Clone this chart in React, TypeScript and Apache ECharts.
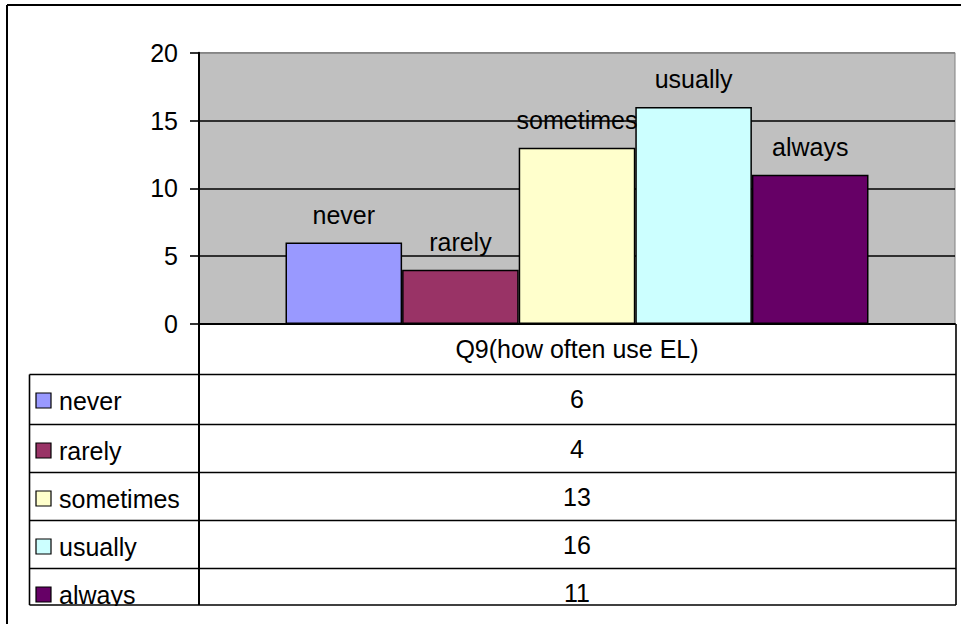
import React, { useEffect, useRef } from "react";
import * as echarts from "echarts";

// Survey question and answer counts
const categories = ["Q9(how often use EL)"];
const seriesNames = ["never", "rarely", "sometimes", "usually", "always"];
const seriesValues = [6, 4, 13, 16, 11];
const seriesColors = ["#9999FF", "#993366", "#FFFFCC", "#CCFFFF", "#660066"];
const yMin = 0;
const yMax = 20;
const yInterval = 5;

const W = 961;
const H = 624;
const FONT = "'Liberation Sans', Arial, Helvetica, sans-serif";
const FS = 25;

// plot / table layout
const PLOT_LEFT = 199;
const PLOT_RIGHT = 955;
const PLOT_TOP = 52.7;
const PLOT_BOTTOM = 324;
const TABLE_LEFT = 29.5;
const TABLE_RIGHT = 956;
const ROW_TOPS = [374.5, 424.5, 472.5, 520.5, 568.5];
const ROW_H = 48;
const TABLE_BOTTOM = 605;

export default function App() {
  const ref = useRef<HTMLDivElement>(null);

  useEffect(() => {
    if (!ref.current) return;
    const chart = echarts.init(ref.current, undefined, { renderer: "svg" });

    const midX = (PLOT_LEFT + PLOT_RIGHT) / 2;
    const lineStyle = { stroke: "#000", lineWidth: 1.6 };
    const graphics: any[] = [];

    // outer chart frame (left and top edges visible)
    graphics.push({ type: "line", z: 120, shape: { x1: 7, y1: 5, x2: 7, y2: H }, style: { stroke: "#000", lineWidth: 2 } });
    graphics.push({ type: "line", z: 120, shape: { x1: 7, y1: 5, x2: W, y2: 5 }, style: { stroke: "#000", lineWidth: 2 } });

    // data table grid
    ROW_TOPS.forEach((y) => {
      graphics.push({ type: "line", z: 50, shape: { x1: TABLE_LEFT, y1: y, x2: TABLE_RIGHT, y2: y }, style: lineStyle });
    });
    graphics.push({ type: "line", z: 50, shape: { x1: TABLE_LEFT, y1: TABLE_BOTTOM, x2: TABLE_RIGHT, y2: TABLE_BOTTOM }, style: lineStyle });
    graphics.push({ type: "line", z: 50, shape: { x1: TABLE_LEFT, y1: ROW_TOPS[0], x2: TABLE_LEFT, y2: TABLE_BOTTOM }, style: lineStyle });
    graphics.push({ type: "line", z: 50, shape: { x1: PLOT_LEFT, y1: PLOT_BOTTOM, x2: PLOT_LEFT, y2: TABLE_BOTTOM }, style: { stroke: "#000", lineWidth: 2 } });
    graphics.push({ type: "line", z: 50, shape: { x1: TABLE_RIGHT, y1: PLOT_BOTTOM, x2: TABLE_RIGHT, y2: TABLE_BOTTOM }, style: lineStyle });

    // legend keys and values per row
    seriesNames.forEach((name, i) => {
      const cy = ROW_TOPS[i] + ROW_H / 2 + 2;
      graphics.push({
        type: "rect",
        z: 40,
        shape: { x: 36, y: cy - 7.5, width: 15, height: 15 },
        style: { fill: seriesColors[i], stroke: "#000", lineWidth: 1.2 },
      });
      graphics.push({
        type: "text",
        z: 40,
        x: 59,
        y: cy,
        style: { text: name, fontSize: FS, fontFamily: FONT, fill: "#000", align: "left", verticalAlign: "middle" },
      });
      graphics.push({
        type: "text",
        z: 40,
        x: midX,
        y: ROW_TOPS[i] + ROW_H / 2,
        style: { text: String(seriesValues[i]), fontSize: FS, fontFamily: FONT, fill: "#000", align: "center", verticalAlign: "middle" },
      });
    });

    // trims whatever spills below the table's bottom edge
    graphics.push({
      type: "rect",
      z: 100,
      shape: { x: 8.5, y: TABLE_BOTTOM + 1, width: W, height: H - TABLE_BOTTOM },
      style: { fill: "#fff" },
    });

    chart.setOption({
      animation: false,
      backgroundColor: "#fff",
      textStyle: { fontFamily: FONT },
      grid: {
        left: PLOT_LEFT,
        right: W - PLOT_RIGHT,
        top: PLOT_TOP,
        bottom: H - PLOT_BOTTOM,
        show: true,
        backgroundColor: "#C0C0C0",
        borderColor: "#808080",
        borderWidth: 1,
      },
      xAxis: {
        type: "category",
        data: categories,
        axisLine: { show: true, lineStyle: { color: "#000", width: 2 } },
        axisTick: { show: false },
        axisLabel: { show: true, fontSize: FS, color: "#000", fontFamily: FONT, margin: 12 },
        splitLine: { show: false },
      },
      yAxis: {
        type: "value",
        min: yMin,
        max: yMax,
        interval: yInterval,
        axisLine: { show: true, lineStyle: { color: "#000", width: 2 } },
        axisTick: { show: true, inside: false, length: 9, lineStyle: { color: "#000", width: 1.6 } },
        axisLabel: { fontSize: FS, color: "#000", fontFamily: FONT, margin: 21 },
        splitLine: {
          show: true,
          lineStyle: { color: ["#000", "#000", "#000", "#000", "#808080"], width: 1.6 },
        },
      },
      series: seriesNames.map((name, i) => ({
        type: "bar",
        name,
        data: [seriesValues[i]],
        barWidth: 116.6,
        barGap: "0%",
        itemStyle: { color: seriesColors[i], borderColor: "#000", borderWidth: 1.5 },
        label: {
          show: true,
          position: "top",
          distance: 15,
          formatter: "{a}",
          fontSize: FS,
          color: "#000",
          fontFamily: FONT,
        },
      })),
      graphic: graphics,
    });

    return () => chart.dispose();
  }, []);

  return (
    <div
      ref={ref}
      style={{ position: "absolute", left: 0, top: 0, width: W, height: H }}
    />
  );
}
